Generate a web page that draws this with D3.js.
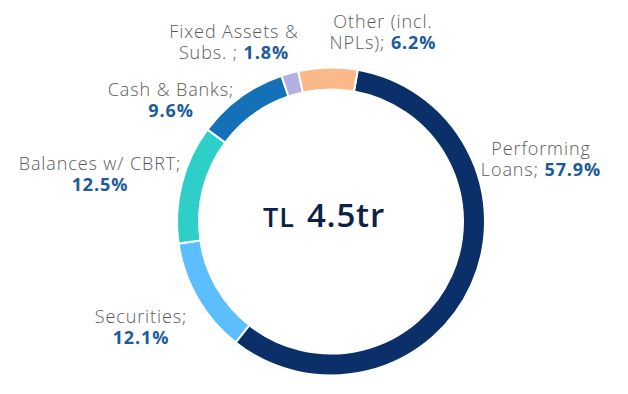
<!DOCTYPE html>
<html>
<head>
<meta charset="utf-8">
<script src="https://cdn.jsdelivr.net/npm/d3@7"></script>
<style>
  html, body { margin: 0; padding: 0; background: #fff; }
  svg { display: block; font-family: "Open Sans", sans-serif; }
</style>
</head>
<body>
<svg id="chart" width="628" height="394"></svg>
<script>
// asset breakdown, clockwise from the top
const categories = ["Performing Loans", "Securities", "Balances w/ CBRT", "Cash & Banks", "Fixed Assets & Subs.", "Other (incl. NPLs)"];
const shares = [57.9, 12.1, 12.5, 9.6, 1.8, 6.2];
const colors = ["#0b3069", "#5bbfff", "#2dcfc8", "#1471b8", "#b1b0e0", "#fbb889"];
const labelLines = [
    ["Performing", "Loans; "],
    ["Securities;", ""],
    ["Balances w/ CBRT;", ""],
    ["Cash & Banks;", ""],
    ["Fixed Assets &", "Subs. ; "],
    ["Other (incl.", "NPLs); "]
];
const totalLabel = ["TL", "4.5tr"];

// label anchors (centre of text block, first baseline)
const labelPos = [[541, 155], [141, 323], [100, 170], [171, 96], [234, 38], [383, 28]];

const cx = 331, cy = 221.5;
const outerR = 154, innerR = 132;
const startAngle = 10 * Math.PI / 180;

const svg = d3.select("#chart");
const g = svg.append("g").attr("transform", `translate(${cx},${cy})`);

const pie = d3.pie()
    .sort(null)
    .value(d => d)
    .startAngle(startAngle)
    .endAngle(startAngle + 2 * Math.PI);

const arc = d3.arc()
    .innerRadius(innerR)
    .outerRadius(outerR);

g.selectAll("path.slice")
    .data(pie(shares))
    .join("path")
    .attr("class", "slice")
    .attr("d", arc)
    .attr("fill", (d, i) => colors[i])
    .attr("stroke", "#fff")
    .attr("stroke-width", 2);

// centre total
const centre = g.append("text")
    .attr("text-anchor", "start")
    .attr("x", -68)
    .attr("y", 5.5)
    .attr("fill", "#0d2146")
    .attr("font-weight", 600);
centre.append("tspan")
    .attr("font-size", 27)
    .attr("letter-spacing", 1)
    .text(totalLabel[0]);
centre.append("tspan")
    .attr("dx", 12)
    .attr("font-size", 33)
    .attr("letter-spacing", 0.8)
    .text(totalLabel[1]);

// labels: name line, then a second line ending in the share
const fmt = d3.format(".1f");
const labels = svg.selectAll("g.lbl")
    .data(categories)
    .join("g")
    .attr("class", "lbl")
    .attr("font-size", 18)
    .attr("letter-spacing", 0.9)
    .attr("text-anchor", "middle");

labels.each(function(d, i) {
    const t = d3.select(this);
    const [x, y] = labelPos[i];
    const lines = labelLines[i];
    t.append("text")
        .attr("x", x)
        .attr("y", y)
        .attr("fill", "#5a5a5a")
        .attr("font-weight", 300)
        .text(lines[0]);
    const second = t.append("text")
        .attr("x", x)
        .attr("y", y + 21);
    if (lines[1]) {
        second.append("tspan")
            .attr("fill", "#5a5a5a")
            .attr("font-weight", 300)
            .text(lines[1]);
    }
    second.append("tspan")
        .attr("fill", "#1d5b9b")
        .attr("font-weight", 700)
        .text(fmt(shares[i]) + "%");
});
</script>
</body>
</html>
